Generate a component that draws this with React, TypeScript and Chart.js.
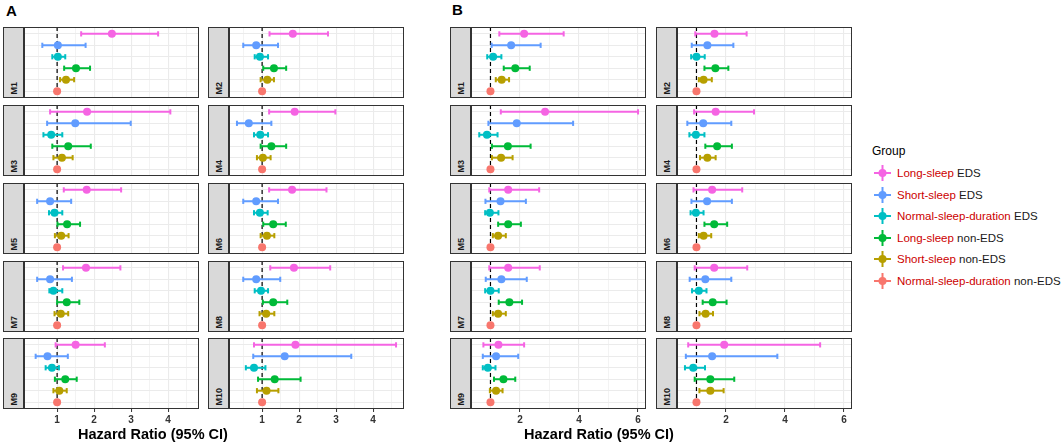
import React, { useEffect, useRef } from "react";
import { Chart, registerables } from "chart.js";

Chart.register(...registerables);

const FONT = "'Liberation Sans', Arial, Helvetica, sans-serif";
Chart.defaults.font.family = FONT;

// ---------- data ----------
const GROUP_DURATION = ["Long-sleep", "Short-sleep", "Normal-sleep-duration", "Long-sleep", "Short-sleep", "Normal-sleep-duration"];
const GROUP_EDS = ["EDS", "EDS", "EDS", "non-EDS", "non-EDS", "non-EDS"];
const GROUP_COLORS = ["#F564E3", "#619CFF", "#00BFC4", "#00BA38", "#B79F00", "#F8766D"];
const MODELS = ["M1", "M2", "M3", "M4", "M5", "M6", "M7", "M8", "M9", "M10"];
const REFERENCE_HR = 1;
const X_TITLE = "Hazard Ratio (95% CI)";
const LEGEND_TITLE = "Group";
const PANEL_LABELS = ["A", "B"];

// Panel A: hazard ratio, lower and upper CI per model (rows) and group (columns)
const HR_A = [
  [2.48, 1.02, 1.02, 1.51, 1.24, 1],
  [1.83, 0.84, 0.94, 1.32, 1.14, 1],
  [1.81, 1.49, 0.84, 1.30, 1.13, 1],
  [1.88, 0.64, 0.95, 1.25, 1.02, 1],
  [1.80, 0.81, 0.93, 1.27, 1.11, 1],
  [1.81, 0.84, 0.94, 1.30, 1.13, 1],
  [1.78, 0.81, 0.90, 1.26, 1.10, 1],
  [1.86, 0.84, 0.97, 1.30, 1.11, 1],
  [1.50, 0.74, 0.86, 1.22, 1.06, 1],
  [1.90, 1.61, 0.78, 1.34, 1.12, 1],
];
const LO_A = [
  [1.65, 0.60, 0.87, 1.19, 1.08, 1],
  [1.20, 0.49, 0.80, 1.03, 0.96, 1],
  [0.81, 0.73, 0.63, 0.87, 0.90, 1],
  [1.19, 0.32, 0.78, 0.96, 0.86, 1],
  [1.18, 0.46, 0.78, 1.01, 0.94, 1],
  [1.19, 0.49, 0.78, 1.03, 0.96, 1],
  [1.16, 0.46, 0.79, 1.00, 0.93, 1],
  [1.22, 0.49, 0.80, 1.02, 0.93, 1],
  [0.96, 0.42, 0.69, 0.94, 0.90, 1],
  [0.78, 0.76, 0.56, 0.89, 0.86, 1],
];
const HI_A = [
  [3.73, 1.77, 1.22, 1.89, 1.46, 1],
  [2.78, 1.43, 1.16, 1.65, 1.32, 1],
  [4.06, 2.99, 1.14, 1.91, 1.42, 1],
  [2.98, 1.25, 1.16, 1.65, 1.23, 1],
  [2.73, 1.38, 1.14, 1.62, 1.31, 1],
  [2.74, 1.43, 1.15, 1.64, 1.33, 1],
  [2.71, 1.40, 1.14, 1.60, 1.30, 1],
  [2.84, 1.49, 1.16, 1.68, 1.33, 1],
  [2.29, 1.29, 1.05, 1.53, 1.26, 1],
  [4.62, 3.41, 1.09, 2.04, 1.44, 1],
];

// Panel B
const HR_B = [
  [2.14, 1.70, 1.09, 1.84, 1.38, 1],
  [1.61, 1.37, 1.00, 1.64, 1.24, 1],
  [2.85, 1.89, 0.88, 1.59, 1.36, 1],
  [1.65, 1.23, 0.98, 1.70, 1.37, 1],
  [1.60, 1.34, 0.98, 1.60, 1.26, 1],
  [1.53, 1.36, 0.98, 1.60, 1.24, 1],
  [1.60, 1.37, 1.00, 1.64, 1.26, 1],
  [1.60, 1.30, 1.08, 1.55, 1.31, 1],
  [1.27, 1.19, 0.91, 1.44, 1.19, 1],
  [1.94, 1.53, 0.89, 1.47, 1.47, 1],
];
const LO_B = [
  [1.30, 1.04, 0.89, 1.45, 1.18, 1],
  [0.96, 0.84, 0.82, 1.27, 1.08, 1],
  [1.35, 0.93, 0.62, 1.05, 1.05, 1],
  [0.92, 0.69, 0.76, 1.30, 1.12, 1],
  [0.96, 0.83, 0.82, 1.26, 1.08, 1],
  [0.90, 0.83, 0.80, 1.27, 1.08, 1],
  [0.96, 0.84, 0.82, 1.28, 1.08, 1],
  [0.94, 0.77, 0.85, 1.21, 1.10, 1],
  [0.76, 0.74, 0.74, 1.12, 0.98, 1],
  [0.72, 0.64, 0.61, 0.94, 1.10, 1],
];
const HI_B = [
  [3.48, 2.70, 1.37, 2.33, 1.63, 1],
  [2.70, 2.25, 1.28, 2.08, 1.52, 1],
  [6.00, 3.80, 1.24, 2.36, 1.75, 1],
  [2.95, 2.18, 1.27, 2.20, 1.65, 1],
  [2.65, 2.20, 1.27, 2.03, 1.52, 1],
  [2.55, 2.20, 1.24, 2.04, 1.50, 1],
  [2.67, 2.23, 1.28, 2.07, 1.52, 1],
  [2.72, 2.18, 1.34, 2.02, 1.56, 1],
  [2.14, 1.94, 1.17, 1.84, 1.41, 1],
  [5.19, 3.74, 1.29, 2.28, 1.92, 1],
];

const MAJOR_TICKS_A = [1, 2, 3, 4];
const MINOR_TICKS_A = [0.5, 1.5, 2.5, 3.5, 4.5];
const MAJOR_TICKS_B = [2, 4, 6];
const MINOR_TICKS_B = [1, 3, 5];

// ---------- layout ----------
const PLOT_W = 175;
const PLOT_H = 71;
const STRIP_W = 21;
const ROW_TOPS = [27, 105, 183, 261, 338];
const PANEL_LAYOUT = [
  { colLefts: [24, 229], titleX: 153, labelX: 6, labelY: 2 },
  { colLefts: [471, 677], titleX: 599, labelX: 452, labelY: 1 },
];
const BOTTOM_AXIS_H = 20;

function limitsOf(lo: number[][], hi: number[][], hr: number[][]) {
  const all = [...lo.flat(), ...hi.flat(), ...hr.flat()];
  const mn = Math.min(...all);
  const mx = Math.max(...all);
  const r = mx - mn;
  return { min: mn - 0.05 * r, max: mx + 0.05 * r };
}

const refLinePlugin = {
  id: "refLine",
  beforeDatasetsDraw(chart: any) {
    const { ctx, chartArea } = chart;
    const x = chart.scales.x.getPixelForValue(REFERENCE_HR);
    ctx.save();
    ctx.beginPath();
    ctx.setLineDash([4, 3]);
    ctx.strokeStyle = "#000000";
    ctx.lineWidth = 1.2;
    ctx.moveTo(x, chartArea.top);
    ctx.lineTo(x, chartArea.bottom);
    ctx.stroke();
    ctx.restore();
  },
};

const borderPlugin = {
  id: "panelBorder",
  afterDraw(chart: any) {
    const { ctx, chartArea } = chart;
    ctx.save();
    ctx.strokeStyle = "#333333";
    ctx.lineWidth = 1;
    ctx.strokeRect(
      Math.round(chartArea.left) + 0.5,
      Math.round(chartArea.top) + 0.5,
      Math.round(chartArea.right - chartArea.left) - 1,
      Math.round(chartArea.bottom - chartArea.top) - 1
    );
    ctx.restore();
  },
};

type FacetProps = {
  hr: number[];
  lo: number[];
  hi: number[];
  model: string;
  left: number;
  top: number;
  bottom: boolean;
  xmin: number;
  xmax: number;
  major: number[];
  minor: number[];
};

function Facet(p: FacetProps) {
  const ref = useRef<HTMLCanvasElement | null>(null);
  const h = PLOT_H + (p.bottom ? BOTTOM_AXIS_H : 0);
  useEffect(() => {
    if (!ref.current) return;
    const allTicks = [...p.major, ...p.minor].sort((a, b) => a - b);
    const isMajor = (v: number) => p.major.includes(v);
    const chart = new Chart(ref.current, {
      type: "scatter",
      data: {
        datasets: [
          {
            type: "scatter",
            data: p.hr.map((v, i) => ({ x: v, y: i })),
            pointRadius: 4,
            pointHoverRadius: 4,
            pointBackgroundColor: GROUP_COLORS,
            pointBorderColor: GROUP_COLORS,
            pointBorderWidth: 0,
            order: 0,
          } as any,
          ...GROUP_COLORS.map((c, i) => ({
            type: "line",
            data: [
              { x: p.lo[i], y: i },
              { x: p.hi[i], y: i },
            ],
            borderColor: c,
            backgroundColor: c,
            borderWidth: 2,
            pointStyle: "line",
            pointRotation: 90,
            pointRadius: 2.6,
            pointHoverRadius: 2.6,
            pointBorderWidth: 2,
            pointBorderColor: c,
            pointBackgroundColor: c,
            showLine: true,
            fill: false,
            order: 1,
          })) as any[],
        ],
      },
      options: {
        animation: false,
        responsive: false,
        events: [],
        layout: { padding: 0, autoPadding: false },
        plugins: { legend: { display: false }, tooltip: { enabled: false } },
        scales: {
          x: {
            type: "linear",
            min: p.xmin,
            max: p.xmax,
            afterBuildTicks: (s: any) => {
              s.ticks = allTicks.map((v) => ({ value: v }));
            },
            afterFit: (s: any) => {
              s.height = p.bottom ? BOTTOM_AXIS_H : 0;
              s.paddingLeft = 0;
              s.paddingRight = 0;
            },
            border: { display: false },
            grid: {
              color: "#EBEBEB",
              lineWidth: (ctx: any) => (ctx.tick && isMajor(ctx.tick.value) ? 1.1 : 0.6),
              drawTicks: p.bottom,
              tickLength: 3,
              tickWidth: 1,
              tickColor: (ctx: any) => (ctx.tick && isMajor(ctx.tick.value) ? "#333333" : "rgba(0,0,0,0)"),
            },
            ticks: {
              display: p.bottom,
              autoSkip: false,
              maxRotation: 0,
              padding: 2,
              color: "#333333",
              font: { family: FONT, size: 10, weight: "bold" },
              callback: (v: any) => (isMajor(Number(v)) ? String(v) : ""),
            },
          },
          y: {
            type: "linear",
            min: -0.6,
            max: 5.6,
            reverse: true,
            afterBuildTicks: (s: any) => {
              s.ticks = GROUP_COLORS.map((_, i) => ({ value: i }));
            },
            afterFit: (s: any) => {
              s.width = 0;
              s.paddingTop = 0;
              s.paddingBottom = 0;
            },
            border: { display: false },
            grid: { color: "#EBEBEB", lineWidth: 1.1, drawTicks: false },
            ticks: { display: false },
          },
        },
      } as any,
      plugins: [refLinePlugin, borderPlugin],
    });
    return () => chart.destroy();
  }, []);

  return (
    <>
      <div
        style={{
          position: "absolute",
          left: p.left - STRIP_W,
          top: p.top,
          width: STRIP_W,
          height: PLOT_H,
          boxSizing: "border-box",
          background: "#D9D9D9",
          border: "1px solid #333333",
          display: "flex",
          flexDirection: "column",
          justifyContent: "flex-end",
          alignItems: "center",
          paddingBottom: 2,
        }}
      >
        <span
          style={{
            writingMode: "vertical-rl",
            transform: "rotate(180deg)",
            fontFamily: FONT,
            fontSize: 9,
            fontWeight: "bold",
            color: "#1A1A1A",
            lineHeight: "10px",
          }}
        >
          {p.model}
        </span>
      </div>
      <canvas
        ref={ref}
        width={PLOT_W}
        height={h}
        style={{ position: "absolute", left: p.left, top: p.top, width: PLOT_W, height: h }}
      />
    </>
  );
}

function Panel({ idx }: { idx: number }) {
  const hr = idx === 0 ? HR_A : HR_B;
  const lo = idx === 0 ? LO_A : LO_B;
  const hi = idx === 0 ? HI_A : HI_B;
  const major = idx === 0 ? MAJOR_TICKS_A : MAJOR_TICKS_B;
  const minor = idx === 0 ? MINOR_TICKS_A : MINOR_TICKS_B;
  const lim = limitsOf(lo, hi, hr);
  const lay = PANEL_LAYOUT[idx];
  return (
    <>
      <div
        style={{
          position: "absolute",
          left: lay.labelX,
          top: lay.labelY,
          fontFamily: FONT,
          fontWeight: "bold",
          fontSize: 15,
          color: "#000",
        }}
      >
        {PANEL_LABELS[idx]}
      </div>
      {MODELS.map((m, k) => {
        const r = Math.floor(k / 2);
        const c = k % 2;
        return (
          <Facet
            key={m}
            hr={hr[k]}
            lo={lo[k]}
            hi={hi[k]}
            model={m}
            left={lay.colLefts[c]}
            top={ROW_TOPS[r]}
            bottom={r === ROW_TOPS.length - 1}
            xmin={lim.min}
            xmax={lim.max}
            major={major}
            minor={minor}
          />
        );
      })}
      <div
        style={{
          position: "absolute",
          left: lay.titleX - 120,
          width: 240,
          top: 425,
          textAlign: "center",
          fontFamily: FONT,
          fontWeight: "bold",
          fontSize: 14.5,
          lineHeight: "18px",
          color: "#000",
        }}
      >
        {X_TITLE}
      </div>
    </>
  );
}

function Legend() {
  return (
    <div style={{ position: "absolute", left: 872, top: 143, fontFamily: FONT }}>
      <div style={{ fontSize: 12, lineHeight: "16px", color: "#000" }}>{LEGEND_TITLE}</div>
      {GROUP_COLORS.map((c, i) => (
        <div
          key={i}
          style={{
            position: "absolute",
            left: 0,
            top: 20 + i * 21.5,
            height: 20,
            display: "flex",
            alignItems: "center",
            whiteSpace: "nowrap",
          }}
        >
          <svg width={20} height={20} style={{ display: "block" }}>
            <line x1={2} y1={10} x2={19} y2={10} stroke={c} strokeWidth={2} />
            <line x1={10.5} y1={2} x2={10.5} y2={18} stroke={c} strokeWidth={2} />
            <circle cx={10.5} cy={10} r={4} fill={c} />
          </svg>
          <span style={{ marginLeft: 5, fontSize: 11.5, lineHeight: "14px" }}>
            <span style={{ color: "#CC0000" }}>{GROUP_DURATION[i]}</span>
            <span style={{ color: "#1A1A1A" }}>{" " + GROUP_EDS[i]}</span>
          </span>
        </div>
      ))}
    </div>
  );
}

export default function App() {
  return (
    <div
      style={{
        position: "fixed",
        left: 0,
        top: 0,
        width: 1064,
        height: 446,
        background: "#FFFFFF",
        overflow: "hidden",
      }}
    >
      <Panel idx={0} />
      <Panel idx={1} />
      <Legend />
    </div>
  );
}
